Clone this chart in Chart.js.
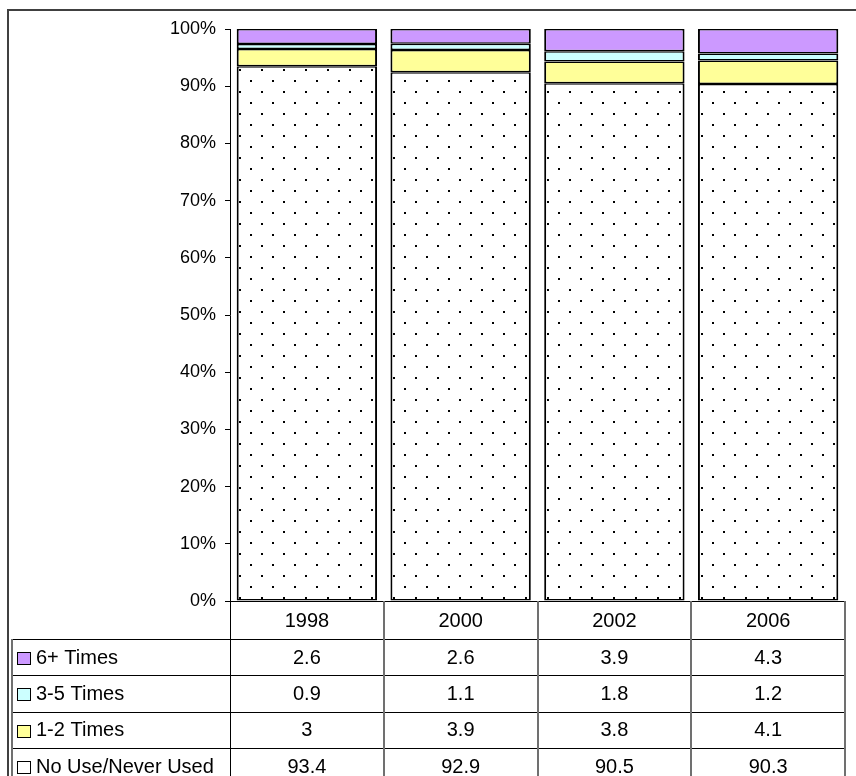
<!DOCTYPE html>
<html lang="en">
<head>
    <meta charset="UTF-8">
    <title>Use frequency by year</title>
    <script src="https://cdn.jsdelivr.net/npm/chart.js"></script>
    <style>
        body { margin: 0; background: #fff; font-family: "Liberation Sans", Arial, sans-serif; }
        #wrap { width: 856px; height: 776px; position: relative; overflow: hidden; }
    </style>
</head>
<body>
    <div id="wrap">
        <canvas id="chart" width="856" height="776"></canvas>
    </div>

    <script>
        // data
        const years = ['1998', '2000', '2002', '2006'];
        const sixPlus = [2.6, 2.6, 3.9, 4.3];
        const threeToFive = [0.9, 1.1, 1.8, 1.2];
        const oneToTwo = [3, 3.9, 3.8, 4.1];
        const noUse = [93.4, 92.9, 90.5, 90.3];

        const seriesNames = ['6+ Times', '3-5 Times', '1-2 Times', 'No Use/Never Used'];
        const seriesValues = [sixPlus, threeToFive, oneToTwo, noUse];
        const seriesColors = ['#CC99FF', '#CCFFFF', '#FFFF99', '#FFFFFF'];

        const FONT = '"Liberation Sans", Arial, sans-serif';

        // 100% stacked: share of each year's total
        const totals = years.map((y, i) => seriesValues.reduce((s, arr) => s + arr[i], 0));
        const pct = arr => arr.map((v, i) => v / totals[i] * 100);

        // dotted fill for the "no use" part
        function dotPattern() {
            const c = document.createElement('canvas');
            c.width = 22; c.height = 22;
            const g = c.getContext('2d');
            g.fillStyle = '#fff';
            g.fillRect(0, 0, 22, 22);
            g.fillStyle = '#000';
            g.fillRect(8, 14, 2, 2);
            g.fillRect(19, 3, 2, 2);
            return g.createPattern(c, 'repeat');
        }

        // data table under the plot
        const tablePlugin = {
            id: 'dataTable',
            afterDraw(chart) {
                const ctx = chart.ctx;
                const area = chart.chartArea;
                const xs = chart.scales.x;
                const top = area.bottom;
                const headH = 38;
                const rowH = 36.3;
                const half = (xs.getPixelForValue(1) - xs.getPixelForValue(0)) / 2;
                const bottom = 776;
                const rowTop = r => top + headH + rowH * r;

                ctx.save();

                // outer frame
                ctx.strokeStyle = '#404040';
                ctx.lineWidth = 2;
                ctx.beginPath();
                ctx.moveTo(8, bottom + 2);
                ctx.lineTo(8, 10);
                ctx.lineTo(860, 10);
                ctx.stroke();

                // horizontal rules
                ctx.strokeStyle = '#000';
                ctx.lineWidth = 1.2;
                ctx.beginPath();
                ctx.moveTo(area.left - 5, top + 0.5);
                ctx.lineTo(area.right, top + 0.5);
                for (let r = 0; r < 4; r++) {
                    const y = Math.round(rowTop(r)) + 0.5;
                    ctx.moveTo(12, y);
                    ctx.lineTo(area.right, y);
                }
                ctx.stroke();

                // axis line continues down
                ctx.lineWidth = 1;
                ctx.beginPath();
                ctx.moveTo(area.left + 0.5, top);
                ctx.lineTo(area.left + 0.5, bottom);
                ctx.stroke();

                // column dividers
                ctx.strokeStyle = '#707070';
                ctx.lineWidth = 2;
                ctx.beginPath();
                years.forEach((y, i) => {
                    const x = Math.round(xs.getPixelForValue(i) + half);
                    ctx.moveTo(x, top);
                    ctx.lineTo(x, bottom);
                });
                ctx.moveTo(12, Math.round(rowTop(0)));
                ctx.lineTo(12, bottom);
                ctx.stroke();

                // header row: years
                ctx.fillStyle = '#000';
                ctx.font = '20px ' + FONT;
                ctx.textAlign = 'center';
                ctx.textBaseline = 'middle';
                years.forEach((y, i) => {
                    ctx.fillText(y, xs.getPixelForValue(i), top + headH / 2 + 1);
                });

                // value rows with legend keys
                seriesNames.forEach((name, r) => {
                    const cy = rowTop(r) + rowH / 2 + 1;
                    ctx.fillStyle = seriesColors[r];
                    ctx.fillRect(17, Math.round(cy - 6), 13, 12);
                    ctx.strokeStyle = '#000';
                    ctx.lineWidth = 1;
                    ctx.strokeRect(17.5, Math.round(cy - 6) + 0.5, 13, 12);

                    ctx.fillStyle = '#000';
                    ctx.textAlign = 'left';
                    ctx.fillText(name, 36, cy);
                    ctx.textAlign = 'center';
                    seriesValues[r].forEach((v, i) => {
                        ctx.fillText(String(v), xs.getPixelForValue(i), cy);
                    });
                });

                ctx.restore();
            }
        };

        const barStyle = {
            borderColor: '#000',
            borderWidth: { top: 1.5, bottom: 1.5, left: 2, right: 2 },
            borderSkipped: false,
            barPercentage: 0.913,
            categoryPercentage: 1
        };

        new Chart(document.getElementById('chart'), {
            type: 'bar',
            data: {
                labels: years,
                datasets: [
                    { label: 'No Use/Never Used', data: pct(noUse), backgroundColor: dotPattern(), ...barStyle },
                    { label: '1-2 Times', data: pct(oneToTwo), backgroundColor: '#FFFF99', ...barStyle },
                    { label: '3-5 Times', data: pct(threeToFive), backgroundColor: '#CCFFFF', ...barStyle },
                    { label: '6+ Times', data: pct(sixPlus), backgroundColor: '#CC99FF', ...barStyle }
                ]
            },
            options: {
                responsive: false,
                animation: false,
                layout: { padding: { top: 29, right: 11, bottom: 175, left: 0 } },
                plugins: {
                    legend: { display: false },
                    tooltip: { enabled: false }
                },
                scales: {
                    x: {
                        stacked: true,
                        display: false
                    },
                    y: {
                        stacked: true,
                        min: 0,
                        max: 100,
                        afterFit(scale) { scale.width = 230; },
                        grid: { drawOnChartArea: false, drawTicks: true, tickLength: 5, color: '#000' },
                        border: { display: true, color: '#000' },
                        ticks: {
                            stepSize: 10,
                            padding: 9,
                            color: '#000',
                            font: { family: FONT, size: 18 },
                            callback: v => v + '%'
                        }
                    }
                }
            },
            plugins: [tablePlugin]
        });
    </script>
</body>
</html>
